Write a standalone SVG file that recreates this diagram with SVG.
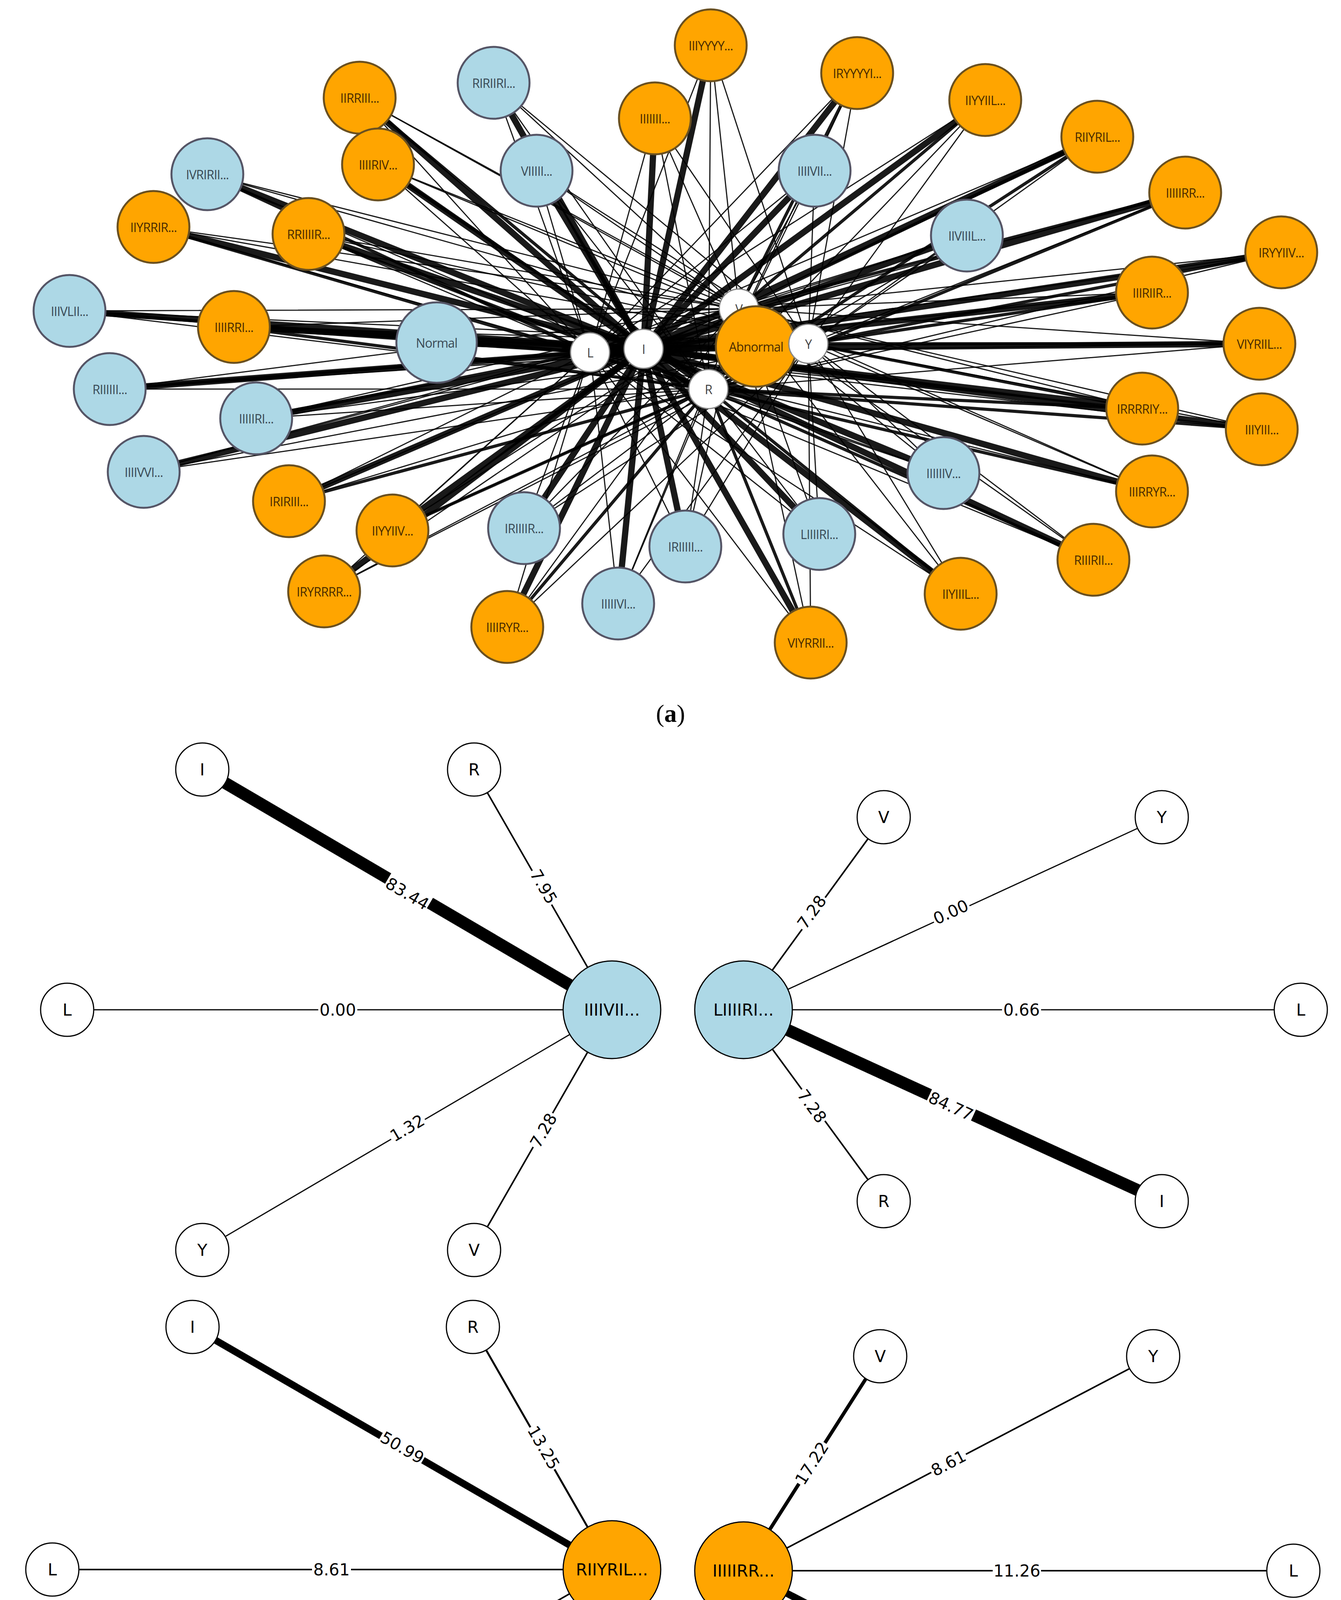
<svg xmlns="http://www.w3.org/2000/svg" width="3434" height="4882" viewBox="0 0 3434 4882">
<style>
.e line{stroke:#000;stroke-opacity:.9;stroke-linecap:round}
.t{stroke-width:16}.m{stroke-width:8}.n{stroke-width:3}
.b{fill:#add8e6;stroke:#556;stroke-width:5}
.o{fill:#ffa500;stroke:#6a5020;stroke-width:5}
.w{fill:#fff;stroke:#888;stroke-width:3}
.lt{font-family:"Open Sans","DejaVu Sans",sans-serif;font-size:32px;text-anchor:middle;dominant-baseline:central;letter-spacing:-1px}
.lb{fill:#3a4a55}.lo{fill:#4a2c00}.lw{fill:#444}
.pn{stroke:#000}
.pb{fill:#add8e6;stroke:#000;stroke-width:3}.po{fill:#ffa500;stroke:#000;stroke-width:3}.pw{fill:#fff;stroke:#000;stroke-width:3}
.pt{font-family:"DejaVu Sans",sans-serif;font-size:42px;text-anchor:middle;dominant-baseline:central;fill:#000}
.cap{font-family:"Liberation Serif",serif;font-size:64px;text-anchor:middle}
</style>
<g id="connectors" class="e">
<line x1="1264" y1="212" x2="1648" y2="893" class="t"/><line x1="1264" y1="212" x2="1511" y2="902" class="n"/><line x1="1264" y1="212" x2="1892" y2="790" class="n"/><line x1="1264" y1="212" x2="2070" y2="880" class="n"/><line x1="1264" y1="212" x2="1814" y2="996" class="n"/>
<line x1="1374" y1="437" x2="1648" y2="893" class="t"/><line x1="1374" y1="437" x2="1511" y2="902" class="n"/><line x1="1374" y1="437" x2="1892" y2="790" class="n"/><line x1="1374" y1="437" x2="2070" y2="880" class="n"/><line x1="1374" y1="437" x2="1814" y2="996" class="n"/>
<line x1="531" y1="446" x2="1648" y2="893" class="t"/><line x1="531" y1="446" x2="1511" y2="902" class="m"/><line x1="531" y1="446" x2="1892" y2="790" class="n"/><line x1="531" y1="446" x2="2070" y2="880" class="n"/><line x1="531" y1="446" x2="1814" y2="996" class="n"/>
<line x1="178" y1="796" x2="1648" y2="893" class="t"/><line x1="178" y1="796" x2="1511" y2="902" class="m"/><line x1="178" y1="796" x2="1892" y2="790" class="n"/><line x1="178" y1="796" x2="2070" y2="880" class="n"/><line x1="178" y1="796" x2="1814" y2="996" class="n"/>
<line x1="281" y1="996" x2="1648" y2="893" class="t"/><line x1="281" y1="996" x2="1511" y2="902" class="m"/><line x1="281" y1="996" x2="1892" y2="790" class="n"/><line x1="281" y1="996" x2="2070" y2="880" class="n"/><line x1="281" y1="996" x2="1814" y2="996" class="n"/>
<line x1="656" y1="1071" x2="1648" y2="893" class="t"/><line x1="656" y1="1071" x2="1511" y2="902" class="m"/><line x1="656" y1="1071" x2="1892" y2="790" class="n"/><line x1="656" y1="1071" x2="2070" y2="880" class="n"/><line x1="656" y1="1071" x2="1814" y2="996" class="n"/>
<line x1="368" y1="1208" x2="1648" y2="893" class="t"/><line x1="368" y1="1208" x2="1511" y2="902" class="n"/><line x1="368" y1="1208" x2="1892" y2="790" class="n"/><line x1="368" y1="1208" x2="2070" y2="880" class="n"/><line x1="368" y1="1208" x2="1814" y2="996" class="n"/>
<line x1="1342" y1="1352" x2="1648" y2="893" class="t"/><line x1="1342" y1="1352" x2="1511" y2="902" class="n"/><line x1="1342" y1="1352" x2="1892" y2="790" class="n"/><line x1="1342" y1="1352" x2="2070" y2="880" class="n"/><line x1="1342" y1="1352" x2="1814" y2="996" class="n"/>
<line x1="1755" y1="1399" x2="1648" y2="893" class="t"/><line x1="1755" y1="1399" x2="1511" y2="902" class="n"/><line x1="1755" y1="1399" x2="1892" y2="790" class="n"/><line x1="1755" y1="1399" x2="2070" y2="880" class="n"/><line x1="1755" y1="1399" x2="1814" y2="996" class="n"/>
<line x1="1583" y1="1545" x2="1648" y2="893" class="t"/><line x1="1583" y1="1545" x2="1511" y2="902" class="n"/><line x1="1583" y1="1545" x2="1892" y2="790" class="n"/><line x1="1583" y1="1545" x2="2070" y2="880" class="n"/><line x1="1583" y1="1545" x2="1814" y2="996" class="n"/>
<line x1="2098" y1="1367" x2="1648" y2="893" class="t"/><line x1="2098" y1="1367" x2="1511" y2="902" class="n"/><line x1="2098" y1="1367" x2="1892" y2="790" class="n"/><line x1="2098" y1="1367" x2="2070" y2="880" class="n"/><line x1="2098" y1="1367" x2="1814" y2="996" class="n"/>
<line x1="2416" y1="1211" x2="1648" y2="893" class="t"/><line x1="2416" y1="1211" x2="1511" y2="902" class="n"/><line x1="2416" y1="1211" x2="1892" y2="790" class="n"/><line x1="2416" y1="1211" x2="2070" y2="880" class="n"/><line x1="2416" y1="1211" x2="1814" y2="996" class="n"/>
<line x1="2476" y1="603" x2="1648" y2="893" class="t"/><line x1="2476" y1="603" x2="1511" y2="902" class="n"/><line x1="2476" y1="603" x2="1892" y2="790" class="n"/><line x1="2476" y1="603" x2="2070" y2="880" class="n"/><line x1="2476" y1="603" x2="1814" y2="996" class="n"/>
<line x1="2086" y1="437" x2="1648" y2="893" class="t"/><line x1="2086" y1="437" x2="1511" y2="902" class="n"/><line x1="2086" y1="437" x2="1892" y2="790" class="n"/><line x1="2086" y1="437" x2="2070" y2="880" class="n"/><line x1="2086" y1="437" x2="1814" y2="996" class="n"/>
<line x1="921" y1="250" x2="1648" y2="893" class="t"/><line x1="921" y1="250" x2="1511" y2="902" class="n"/><line x1="921" y1="250" x2="1892" y2="790" class="n"/><line x1="921" y1="250" x2="2070" y2="880" class="n"/><line x1="921" y1="250" x2="1814" y2="996" class="m"/>
<line x1="968" y1="421" x2="1648" y2="893" class="t"/><line x1="968" y1="421" x2="1511" y2="902" class="n"/><line x1="968" y1="421" x2="1892" y2="790" class="n"/><line x1="968" y1="421" x2="2070" y2="880" class="n"/><line x1="968" y1="421" x2="1814" y2="996" class="m"/>
<line x1="1677" y1="303" x2="1648" y2="893" class="t"/><line x1="1677" y1="303" x2="1511" y2="902" class="n"/><line x1="1677" y1="303" x2="1892" y2="790" class="n"/><line x1="1677" y1="303" x2="2070" y2="880" class="n"/><line x1="1677" y1="303" x2="1814" y2="996" class="n"/>
<line x1="1820" y1="116" x2="1648" y2="893" class="t"/><line x1="1820" y1="116" x2="1511" y2="902" class="n"/><line x1="1820" y1="116" x2="1892" y2="790" class="n"/><line x1="1820" y1="116" x2="2070" y2="880" class="n"/><line x1="1820" y1="116" x2="1814" y2="996" class="n"/>
<line x1="2195" y1="187" x2="1648" y2="893" class="t"/><line x1="2195" y1="187" x2="1511" y2="902" class="n"/><line x1="2195" y1="187" x2="1892" y2="790" class="m"/><line x1="2195" y1="187" x2="2070" y2="880" class="n"/><line x1="2195" y1="187" x2="1814" y2="996" class="n"/>
<line x1="2523" y1="256" x2="1648" y2="893" class="t"/><line x1="2523" y1="256" x2="1511" y2="902" class="n"/><line x1="2523" y1="256" x2="1892" y2="790" class="m"/><line x1="2523" y1="256" x2="2070" y2="880" class="n"/><line x1="2523" y1="256" x2="1814" y2="996" class="n"/>
<line x1="2810" y1="350" x2="1648" y2="893" class="t"/><line x1="2810" y1="350" x2="1511" y2="902" class="n"/><line x1="2810" y1="350" x2="1892" y2="790" class="m"/><line x1="2810" y1="350" x2="2070" y2="880" class="n"/><line x1="2810" y1="350" x2="1814" y2="996" class="m"/>
<line x1="3035" y1="493" x2="1648" y2="893" class="t"/><line x1="3035" y1="493" x2="1511" y2="902" class="n"/><line x1="3035" y1="493" x2="1892" y2="790" class="m"/><line x1="3035" y1="493" x2="2070" y2="880" class="n"/><line x1="3035" y1="493" x2="1814" y2="996" class="m"/>
<line x1="3281" y1="646" x2="1648" y2="893" class="t"/><line x1="3281" y1="646" x2="1511" y2="902" class="n"/><line x1="3281" y1="646" x2="1892" y2="790" class="n"/><line x1="3281" y1="646" x2="2070" y2="880" class="m"/><line x1="3281" y1="646" x2="1814" y2="996" class="n"/>
<line x1="2950" y1="749" x2="1648" y2="893" class="t"/><line x1="2950" y1="749" x2="1511" y2="902" class="n"/><line x1="2950" y1="749" x2="1892" y2="790" class="n"/><line x1="2950" y1="749" x2="2070" y2="880" class="m"/><line x1="2950" y1="749" x2="1814" y2="996" class="n"/>
<line x1="3225" y1="880" x2="1648" y2="893" class="t"/><line x1="3225" y1="880" x2="1511" y2="902" class="n"/><line x1="3225" y1="880" x2="1892" y2="790" class="n"/><line x1="3225" y1="880" x2="2070" y2="880" class="m"/><line x1="3225" y1="880" x2="1814" y2="996" class="n"/>
<line x1="2925" y1="1046" x2="1648" y2="893" class="t"/><line x1="2925" y1="1046" x2="1511" y2="902" class="n"/><line x1="2925" y1="1046" x2="1892" y2="790" class="n"/><line x1="2925" y1="1046" x2="2070" y2="880" class="m"/><line x1="2925" y1="1046" x2="1814" y2="996" class="m"/>
<line x1="3231" y1="1099" x2="1648" y2="893" class="t"/><line x1="3231" y1="1099" x2="1511" y2="902" class="n"/><line x1="3231" y1="1099" x2="1892" y2="790" class="n"/><line x1="3231" y1="1099" x2="2070" y2="880" class="n"/><line x1="3231" y1="1099" x2="1814" y2="996" class="m"/>
<line x1="2950" y1="1258" x2="1648" y2="893" class="t"/><line x1="2950" y1="1258" x2="1511" y2="902" class="n"/><line x1="2950" y1="1258" x2="1892" y2="790" class="n"/><line x1="2950" y1="1258" x2="2070" y2="880" class="n"/><line x1="2950" y1="1258" x2="1814" y2="996" class="m"/>
<line x1="2800" y1="1433" x2="1648" y2="893" class="t"/><line x1="2800" y1="1433" x2="1511" y2="902" class="n"/><line x1="2800" y1="1433" x2="1892" y2="790" class="n"/><line x1="2800" y1="1433" x2="2070" y2="880" class="n"/><line x1="2800" y1="1433" x2="1814" y2="996" class="m"/>
<line x1="2460" y1="1520" x2="1648" y2="893" class="t"/><line x1="2460" y1="1520" x2="1511" y2="902" class="n"/><line x1="2460" y1="1520" x2="1892" y2="790" class="n"/><line x1="2460" y1="1520" x2="2070" y2="880" class="n"/><line x1="2460" y1="1520" x2="1814" y2="996" class="m"/>
<line x1="2076" y1="1645" x2="1648" y2="893" class="t"/><line x1="2076" y1="1645" x2="1511" y2="902" class="n"/><line x1="2076" y1="1645" x2="1892" y2="790" class="n"/><line x1="2076" y1="1645" x2="2070" y2="880" class="n"/><line x1="2076" y1="1645" x2="1814" y2="996" class="m"/>
<line x1="1299" y1="1605" x2="1648" y2="893" class="t"/><line x1="1299" y1="1605" x2="1511" y2="902" class="n"/><line x1="1299" y1="1605" x2="1892" y2="790" class="n"/><line x1="1299" y1="1605" x2="2070" y2="880" class="n"/><line x1="1299" y1="1605" x2="1814" y2="996" class="m"/>
<line x1="830" y1="1514" x2="1648" y2="893" class="t"/><line x1="830" y1="1514" x2="1511" y2="902" class="n"/><line x1="830" y1="1514" x2="1892" y2="790" class="n"/><line x1="830" y1="1514" x2="2070" y2="880" class="n"/><line x1="830" y1="1514" x2="1814" y2="996" class="n"/>
<line x1="1005" y1="1358" x2="1648" y2="893" class="t"/><line x1="1005" y1="1358" x2="1511" y2="902" class="n"/><line x1="1005" y1="1358" x2="1892" y2="790" class="n"/><line x1="1005" y1="1358" x2="2070" y2="880" class="n"/><line x1="1005" y1="1358" x2="1814" y2="996" class="m"/>
<line x1="740" y1="1283" x2="1648" y2="893" class="t"/><line x1="740" y1="1283" x2="1511" y2="902" class="n"/><line x1="740" y1="1283" x2="1892" y2="790" class="n"/><line x1="740" y1="1283" x2="2070" y2="880" class="n"/><line x1="740" y1="1283" x2="1814" y2="996" class="m"/>
<line x1="393" y1="581" x2="1648" y2="893" class="t"/><line x1="393" y1="581" x2="1511" y2="902" class="n"/><line x1="393" y1="581" x2="1892" y2="790" class="n"/><line x1="393" y1="581" x2="2070" y2="880" class="n"/><line x1="393" y1="581" x2="1814" y2="996" class="m"/>
<line x1="790" y1="599" x2="1648" y2="893" class="t"/><line x1="790" y1="599" x2="1511" y2="902" class="n"/><line x1="790" y1="599" x2="1892" y2="790" class="n"/><line x1="790" y1="599" x2="2070" y2="880" class="n"/><line x1="790" y1="599" x2="1814" y2="996" class="m"/>
<line x1="599" y1="837" x2="1648" y2="893" class="t"/><line x1="599" y1="837" x2="1511" y2="902" class="m"/><line x1="599" y1="837" x2="1892" y2="790" class="n"/><line x1="599" y1="837" x2="2070" y2="880" class="n"/><line x1="599" y1="837" x2="1814" y2="996" class="m"/>
<line x1="1118" y1="877" x2="1648" y2="893" class="t"/><line x1="1118" y1="877" x2="1511" y2="902" class="m"/><line x1="1936" y1="887" x2="1648" y2="893" class="t"/><line x1="1936" y1="887" x2="2070" y2="880" class="m"/>
</g>
<g id="nodes-a">
<g id="RIRIIRI"><circle cx="1264" cy="212" r="92" class="b"/><text x="1264" y="212" class="lt lb">RIRIIRI...</text></g>
<g id="VIIIIII"><circle cx="1374" cy="437" r="92" class="b"/><text x="1374" y="437" class="lt lb">VIIIII...</text></g>
<g id="IVRIRII"><circle cx="531" cy="446" r="92" class="b"/><text x="531" y="446" class="lt lb">IVRIRII...</text></g>
<g id="IIIVLII"><circle cx="178" cy="796" r="92" class="b"/><text x="178" y="796" class="lt lb">IIIVLII...</text></g>
<g id="RIIIIII"><circle cx="281" cy="996" r="92" class="b"/><text x="281" y="996" class="lt lb">RIIIIII...</text></g>
<g id="IIIIIRI"><circle cx="656" cy="1071" r="92" class="b"/><text x="656" y="1071" class="lt lb">IIIIIRI...</text></g>
<g id="IIIIVVI"><circle cx="368" cy="1208" r="92" class="b"/><text x="368" y="1208" class="lt lb">IIIIVVI...</text></g>
<g id="IRIIIIR"><circle cx="1342" cy="1352" r="92" class="b"/><text x="1342" y="1352" class="lt lb">IRIIIIR...</text></g>
<g id="IRIIIII"><circle cx="1755" cy="1399" r="92" class="b"/><text x="1755" y="1399" class="lt lb">IRIIIII...</text></g>
<g id="IIIIIVI"><circle cx="1583" cy="1545" r="92" class="b"/><text x="1583" y="1545" class="lt lb">IIIIIVI...</text></g>
<g id="LIIIIRI"><circle cx="2098" cy="1367" r="92" class="b"/><text x="2098" y="1367" class="lt lb">LIIIIRI...</text></g>
<g id="IIIIIIV"><circle cx="2416" cy="1211" r="92" class="b"/><text x="2416" y="1211" class="lt lb">IIIIIIV...</text></g>
<g id="IIVIIIL"><circle cx="2476" cy="603" r="92" class="b"/><text x="2476" y="603" class="lt lb">IIVIIIL...</text></g>
<g id="IIIIVII"><circle cx="2086" cy="437" r="92" class="b"/><text x="2086" y="437" class="lt lb">IIIIVII...</text></g>
<g id="Normal"><circle cx="1118" cy="877" r="103" class="b"/><text x="1118" y="877" class="lt lb">Normal</text></g>
<g id="IIRRIII"><circle cx="921" cy="250" r="92" class="o"/><text x="921" y="250" class="lt lo">IIRRIII...</text></g>
<g id="IIIIRIV"><circle cx="968" cy="421" r="92" class="o"/><text x="968" y="421" class="lt lo">IIIIRIV...</text></g>
<g id="IIIIIII"><circle cx="1677" cy="303" r="92" class="o"/><text x="1677" y="303" class="lt lo">IIIIIII...</text></g>
<g id="IIIYYYY"><circle cx="1820" cy="116" r="92" class="o"/><text x="1820" y="116" class="lt lo">IIIYYYY...</text></g>
<g id="IRYYYYI"><circle cx="2195" cy="187" r="92" class="o"/><text x="2195" y="187" class="lt lo">IRYYYYI...</text></g>
<g id="IIYYIIL"><circle cx="2523" cy="256" r="92" class="o"/><text x="2523" y="256" class="lt lo">IIYYIIL...</text></g>
<g id="RIIYRIL"><circle cx="2810" cy="350" r="92" class="o"/><text x="2810" y="350" class="lt lo">RIIYRIL...</text></g>
<g id="IIIIIRR"><circle cx="3035" cy="493" r="92" class="o"/><text x="3035" y="493" class="lt lo">IIIIIRR...</text></g>
<g id="IRYYIIV"><circle cx="3281" cy="646" r="92" class="o"/><text x="3281" y="646" class="lt lo">IRYYIIV...</text></g>
<g id="IIIRIIR"><circle cx="2950" cy="749" r="92" class="o"/><text x="2950" y="749" class="lt lo">IIIRIIR...</text></g>
<g id="VIYRIIL"><circle cx="3225" cy="880" r="92" class="o"/><text x="3225" y="880" class="lt lo">VIYRIIL...</text></g>
<g id="IRRRRIY"><circle cx="2925" cy="1046" r="92" class="o"/><text x="2925" y="1046" class="lt lo">IRRRRIY...</text></g>
<g id="IIIYIII"><circle cx="3231" cy="1099" r="92" class="o"/><text x="3231" y="1099" class="lt lo">IIIYIII...</text></g>
<g id="IIIRRYR"><circle cx="2950" cy="1258" r="92" class="o"/><text x="2950" y="1258" class="lt lo">IIIRRYR...</text></g>
<g id="RIIIRII"><circle cx="2800" cy="1433" r="92" class="o"/><text x="2800" y="1433" class="lt lo">RIIIRII...</text></g>
<g id="IIYIIIL"><circle cx="2460" cy="1520" r="92" class="o"/><text x="2460" y="1520" class="lt lo">IIYIIIL...</text></g>
<g id="VIYRRII"><circle cx="2076" cy="1645" r="92" class="o"/><text x="2076" y="1645" class="lt lo">VIYRRII...</text></g>
<g id="IIIIRYR"><circle cx="1299" cy="1605" r="92" class="o"/><text x="1299" y="1605" class="lt lo">IIIIRYR...</text></g>
<g id="IRYRRRR"><circle cx="830" cy="1514" r="92" class="o"/><text x="830" y="1514" class="lt lo">IRYRRRR...</text></g>
<g id="IIYYIIV"><circle cx="1005" cy="1358" r="92" class="o"/><text x="1005" y="1358" class="lt lo">IIYYIIV...</text></g>
<g id="IRIRIII"><circle cx="740" cy="1283" r="92" class="o"/><text x="740" y="1283" class="lt lo">IRIRIII...</text></g>
<g id="IIYRRIR"><circle cx="393" cy="581" r="92" class="o"/><text x="393" y="581" class="lt lo">IIYRRIR...</text></g>
<g id="RRIIIIR"><circle cx="790" cy="599" r="92" class="o"/><text x="790" y="599" class="lt lo">RRIIIIR...</text></g>
<g id="IIIIRRI"><circle cx="599" cy="837" r="92" class="o"/><text x="599" y="837" class="lt lo">IIIIRRI...</text></g>
<g id="aL"><circle cx="1511" cy="902" r="50" class="w"/><text x="1511" y="902" class="lt lw">L</text></g>
<g id="aI"><circle cx="1648" cy="893" r="50" class="w"/><text x="1648" y="893" class="lt lw">I</text></g>
<g id="aV"><circle cx="1892" cy="790" r="50" class="w"/><text x="1892" y="790" class="lt lw">V</text></g>
<g id="aR"><circle cx="1814" cy="996" r="50" class="w"/><text x="1814" y="996" class="lt lw">R</text></g>
<g id="Abnormal"><circle cx="1936" cy="887" r="103" class="o"/><text x="1936" y="887" class="lt lo">Abnormal</text></g>
<g id="aY"><circle cx="2070" cy="880" r="50" class="w"/><text x="2070" y="880" class="lt lw">Y</text></g>
</g>
<text x="1717" y="1848" class="cap">(<tspan font-weight="bold">a</tspan>)</text>

<g id="connectors-b">
<line x1="1567" y1="2585" x2="518" y2="1970" class="pn" style="stroke-width:31"/>
<line x1="1567" y1="2585" x2="1214" y2="1970" class="pn" style="stroke-width:4"/>
<line x1="1567" y1="2585" x2="172" y2="2585" class="pn" style="stroke-width:3"/>
<line x1="1567" y1="2585" x2="518" y2="3200" class="pn" style="stroke-width:3"/>
<line x1="1567" y1="2585" x2="1214" y2="3200" class="pn" style="stroke-width:4"/>
<line x1="1904" y1="2585" x2="2263" y2="2092" class="pn" style="stroke-width:4"/>
<line x1="1904" y1="2585" x2="2975" y2="2092" class="pn" style="stroke-width:3"/>
<line x1="1904" y1="2585" x2="3331" y2="2585" class="pn" style="stroke-width:3"/>
<line x1="1904" y1="2585" x2="2263" y2="3075" class="pn" style="stroke-width:4"/>
<line x1="1904" y1="2585" x2="2975" y2="3075" class="pn" style="stroke-width:31"/>
<line x1="1567" y1="4018" x2="493" y2="3397" class="pn" style="stroke-width:18"/>
<line x1="1567" y1="4018" x2="1211" y2="3397" class="pn" style="stroke-width:5"/>
<line x1="1567" y1="4018" x2="134" y2="4018" class="pn" style="stroke-width:4"/>
<line x1="1567" y1="4018" x2="493" y2="4633" class="pn" style="stroke-width:4"/>
<line x1="1567" y1="4018" x2="1211" y2="4633" class="pn" style="stroke-width:8"/>
<line x1="1904" y1="4021" x2="2254" y2="3472" class="pn" style="stroke-width:9"/>
<line x1="1904" y1="4021" x2="2953" y2="3472" class="pn" style="stroke-width:4"/>
<line x1="1904" y1="4021" x2="3312" y2="4021" class="pn" style="stroke-width:4"/>
<line x1="1904" y1="4021" x2="2254" y2="4568" class="pn" style="stroke-width:5"/>
<line x1="1904" y1="4021" x2="2953" y2="4568" class="pn" style="stroke-width:18"/>
</g>
<g id="edge-labels-b">
<g transform="translate(1043,2288) rotate(30.4)"><rect x="-62" y="-26" width="124" height="52" fill="#fff"/><text class="pt">83.44</text></g>
<g transform="translate(1392,2270) rotate(60)"><rect x="-50" y="-26" width="100" height="52" fill="#fff"/><text class="pt">7.95</text></g>
<g transform="translate(865,2585)"><rect x="-50" y="-26" width="100" height="52" fill="#fff"/><text class="pt">0.00</text></g>
<g transform="translate(1043,2888) rotate(-30.4)"><rect x="-50" y="-26" width="100" height="52" fill="#fff"/><text class="pt">1.32</text></g>
<g transform="translate(1392,2894) rotate(-60)"><rect x="-50" y="-26" width="100" height="52" fill="#fff"/><text class="pt">7.28</text></g>
<g transform="translate(2079,2335) rotate(-54)"><rect x="-50" y="-26" width="100" height="52" fill="#fff"/><text class="pt">7.28</text></g>
<g transform="translate(2435,2335) rotate(-24.7)"><rect x="-50" y="-26" width="100" height="52" fill="#fff"/><text class="pt">0.00</text></g>
<g transform="translate(2616,2585)"><rect x="-50" y="-26" width="100" height="52" fill="#fff"/><text class="pt">0.66</text></g>
<g transform="translate(2079,2832) rotate(53.8)"><rect x="-50" y="-26" width="100" height="52" fill="#fff"/><text class="pt">7.28</text></g>
<g transform="translate(2435,2832) rotate(24.6)"><rect x="-62" y="-26" width="124" height="52" fill="#fff"/><text class="pt">84.77</text></g>
<g transform="translate(1030,3706) rotate(30)"><rect x="-62" y="-26" width="124" height="52" fill="#fff"/><text class="pt">50.99</text></g>
<g transform="translate(1392,3706) rotate(60.2)"><rect x="-62" y="-26" width="124" height="52" fill="#fff"/><text class="pt">13.25</text></g>
<g transform="translate(849,4018)"><rect x="-50" y="-26" width="100" height="52" fill="#fff"/><text class="pt">8.61</text></g>
<g transform="translate(1030,4327) rotate(-30)"><rect x="-62" y="-26" width="124" height="52" fill="#fff"/><text class="pt">11.92</text></g>
<g transform="translate(1392,4327) rotate(-60.2)"><rect x="-62" y="-26" width="124" height="52" fill="#fff"/><text class="pt">15.23</text></g>
<g transform="translate(2079,3746) rotate(-57.5)"><rect x="-62" y="-26" width="124" height="52" fill="#fff"/><text class="pt">17.22</text></g>
<g transform="translate(2429,3746) rotate(-27.6)"><rect x="-50" y="-26" width="100" height="52" fill="#fff"/><text class="pt">8.61</text></g>
<g transform="translate(2604,4021)"><rect x="-62" y="-26" width="124" height="52" fill="#fff"/><text class="pt">11.26</text></g>
<g transform="translate(2079,4296) rotate(57.5)"><rect x="-62" y="-26" width="124" height="52" fill="#fff"/><text class="pt">13.91</text></g>
<g transform="translate(2429,4296) rotate(27.6)"><rect x="-62" y="-26" width="124" height="52" fill="#fff"/><text class="pt">49.01</text></g>
</g>
<g id="nodes-b">
<g id="b1c"><circle cx="1567" cy="2585" r="125" class="pb"/><text x="1567" y="2585" class="pt">IIIIVII...</text></g>
<g id="b1I"><circle cx="518" cy="1970" r="68" class="pw"/><text x="518" y="1970" class="pt">I</text></g>
<g id="b1R"><circle cx="1214" cy="1970" r="68" class="pw"/><text x="1214" y="1970" class="pt">R</text></g>
<g id="b1L"><circle cx="172" cy="2585" r="68" class="pw"/><text x="172" y="2585" class="pt">L</text></g>
<g id="b1Y"><circle cx="518" cy="3200" r="68" class="pw"/><text x="518" y="3200" class="pt">Y</text></g>
<g id="b1V"><circle cx="1214" cy="3200" r="68" class="pw"/><text x="1214" y="3200" class="pt">V</text></g>
<g id="b2c"><circle cx="1904" cy="2585" r="125" class="pb"/><text x="1904" y="2585" class="pt">LIIIIRI...</text></g>
<g id="b2V"><circle cx="2263" cy="2092" r="68" class="pw"/><text x="2263" y="2092" class="pt">V</text></g>
<g id="b2Y"><circle cx="2975" cy="2092" r="68" class="pw"/><text x="2975" y="2092" class="pt">Y</text></g>
<g id="b2L"><circle cx="3331" cy="2585" r="68" class="pw"/><text x="3331" y="2585" class="pt">L</text></g>
<g id="b2R"><circle cx="2263" cy="3075" r="68" class="pw"/><text x="2263" y="3075" class="pt">R</text></g>
<g id="b2I"><circle cx="2975" cy="3075" r="68" class="pw"/><text x="2975" y="3075" class="pt">I</text></g>
<g id="b3c"><circle cx="1567" cy="4018" r="125" class="po"/><text x="1567" y="4018" class="pt">RIIYRIL...</text></g>
<g id="b3I"><circle cx="493" cy="3397" r="68" class="pw"/><text x="493" y="3397" class="pt">I</text></g>
<g id="b3R"><circle cx="1211" cy="3397" r="68" class="pw"/><text x="1211" y="3397" class="pt">R</text></g>
<g id="b3L"><circle cx="134" cy="4018" r="68" class="pw"/><text x="134" y="4018" class="pt">L</text></g>
<g id="b3Y"><circle cx="493" cy="4633" r="68" class="pw"/><text x="493" y="4633" class="pt">Y</text></g>
<g id="b3V"><circle cx="1211" cy="4633" r="68" class="pw"/><text x="1211" y="4633" class="pt">V</text></g>
<g id="b4c"><circle cx="1904" cy="4021" r="125" class="po"/><text x="1904" y="4021" class="pt">IIIIIRR...</text></g>
<g id="b4V"><circle cx="2254" cy="3472" r="68" class="pw"/><text x="2254" y="3472" class="pt">V</text></g>
<g id="b4Y"><circle cx="2953" cy="3472" r="68" class="pw"/><text x="2953" y="3472" class="pt">Y</text></g>
<g id="b4L"><circle cx="3312" cy="4021" r="68" class="pw"/><text x="3312" y="4021" class="pt">L</text></g>
<g id="b4R"><circle cx="2254" cy="4568" r="68" class="pw"/><text x="2254" y="4568" class="pt">R</text></g>
<g id="b4I"><circle cx="2953" cy="4568" r="68" class="pw"/><text x="2953" y="4568" class="pt">I</text></g>
</g>
<text x="1717" y="4795" class="cap">(<tspan font-weight="bold">b</tspan>)</text>
</svg>
